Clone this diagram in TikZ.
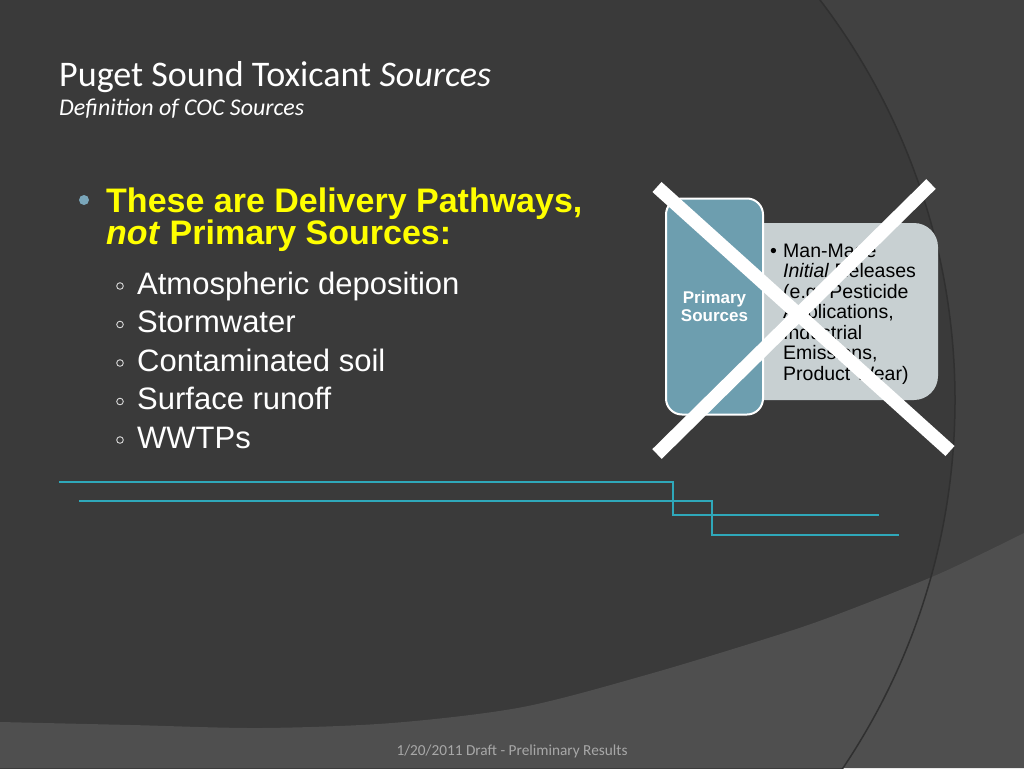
\documentclass[tikz,border=0pt]{standalone}
\usepackage{fontspec}
\usepackage{graphicx}
\setmainfont{Liberation Sans}
\newfontfamily\titlefont{Carlito}
\definecolor{bgmain}{HTML}{3A3A3A}
\definecolor{bgright}{HTML}{414141}
\definecolor{bgband}{HTML}{4F4F4F}
\definecolor{arcline}{HTML}{303030}
\definecolor{tealline}{HTML}{2FA8BA}
\definecolor{dotblue}{HTML}{7AA6BA}
\definecolor{boxblue}{HTML}{6D9EAF}
\definecolor{boxgray}{HTML}{C8D0D2}
\definecolor{foot}{HTML}{A8A8A8}
\definecolor{ringc}{HTML}{D8D8D8}
\definecolor{yel}{HTML}{FFFF00}
\tikzset{
  txt/.style={anchor=base west, inner sep=0pt},
  mainb/.style={txt, text=yel, font=\fontsize{34}{34}\selectfont\bfseries},
  subb/.style={txt, text=white, font=\fontsize{31}{31}\selectfont},
  ring/.style={draw=ringc, line width=0.9pt},
  boxt/.style={txt, text=black, font=\fontsize{19.5}{20.5}\selectfont},
  tline/.style={draw=tealline, line width=1.2pt},
  xbar/.style={draw=white, line width=13.5pt},
}
\begin{document}
\begin{tikzpicture}[x=1pt,y=-1pt]
\useasboundingbox (0,0) rectangle (1024,768);
% background
\fill[bgright] (0,0) rectangle (1024,768);
\begin{scope}
  \clip (0,0) rectangle (1024,768);
  \fill[bgmain] (295,400) circle [radius=660pt];
  \fill[bgband] (0,768) -- plot[smooth] coordinates {(0,722) (131,725) (261,728) (392,723) (523,707) (653,673) (784,633) (849,610) (941,573) (1024,533)} -- (1024,768) -- cycle;
  \draw[arcline, line width=1.5pt] (295,400) circle [radius=660pt];
\end{scope}
% title
\node[txt, text=white] (title) at (59,86) {\resizebox{432pt}{!}{\titlefont Puget Sound Toxicant \textit{Sources}}};
\node[txt, text=white] (subtitle) at (59,115) {\resizebox{245pt}{!}{\titlefont\itshape Definition of COC Sources}};
% main bullet
\fill[dotblue] (84,200) circle [radius=5pt];
\node[mainb] (m1) at (106,212) {These are Delivery Pathways,};
\node[mainb] (m2) at (106,244) {\textit{not} Primary Sources:};
% sub bullets
\node[subb] (s1) at (137,294) {Atmospheric deposition};
\node[subb] (s2) at (137,332.5) {Stormwater};
\node[subb] (s3) at (137,371) {Contaminated soil};
\node[subb] (s4) at (137,409.5) {Surface runoff};
\node[subb] (s5) at (137,448) {WWTPs};
\foreach \yy in {294,332.5,371,409.5,448}{
  \draw[ring] (120,\yy-8) circle [radius=3.3pt];
}
% teal lines
\coordinate (t1a) at (59,482);
\coordinate (t1b) at (673,482);
\coordinate (t1c) at (673,515);
\coordinate (t1d) at (879,515);
\coordinate (t2a) at (79,501);
\coordinate (t2b) at (712,501);
\coordinate (t2c) at (712,535);
\coordinate (t2d) at (899,535);
\draw[tline] (t1a) -- (t1b) -- (t1c) -- (t1d);
\draw[tline] (t2a) -- (t2b) -- (t2c) -- (t2d);
% diagram
\node[fill=boxgray, rounded corners=24pt, minimum width=198pt, minimum height=177pt, inner sep=0pt] (gbox) at (839,311.5) {};
\node[fill=boxblue, draw=white, line width=2pt, rounded corners=16pt, minimum width=97pt, minimum height=216pt, inner sep=0pt, align=center, text=white, font=\fontsize{17}{18}\selectfont\bfseries] (pbox) at (714.5,306.5) {Primary\\Sources};
\node[boxt] (bul) at (770,257) {\textbullet};
\node[boxt] (g1) at (783,257) {Man-Made};
\node[boxt] (g2) at (783,277.5) {\textit{Initial} Releases};
\node[boxt] (g3) at (783,298) {(e.g. Pesticide};
\node[boxt] (g4) at (783,318.5) {Applications,};
\node[boxt] (g5) at (783,339) {Industrial};
\node[boxt] (g6) at (783,359.5) {Emissions,};
\node[boxt] (g7) at (783,380) {Product Wear)};
% cross
\coordinate (xa1) at (657,187);
\coordinate (xa2) at (950,451);
\coordinate (xb1) at (657,454);
\coordinate (xb2) at (931,184);
\draw[xbar] (xa1) -- (xa2);
\draw[xbar] (xb1) -- (xb2);
% footer
\node[text=foot, inner sep=0pt] (foot) at (512,751) {\resizebox{231pt}{!}{\titlefont 1/20/2011 Draft - Preliminary Results}};
\end{tikzpicture}
\end{document}
